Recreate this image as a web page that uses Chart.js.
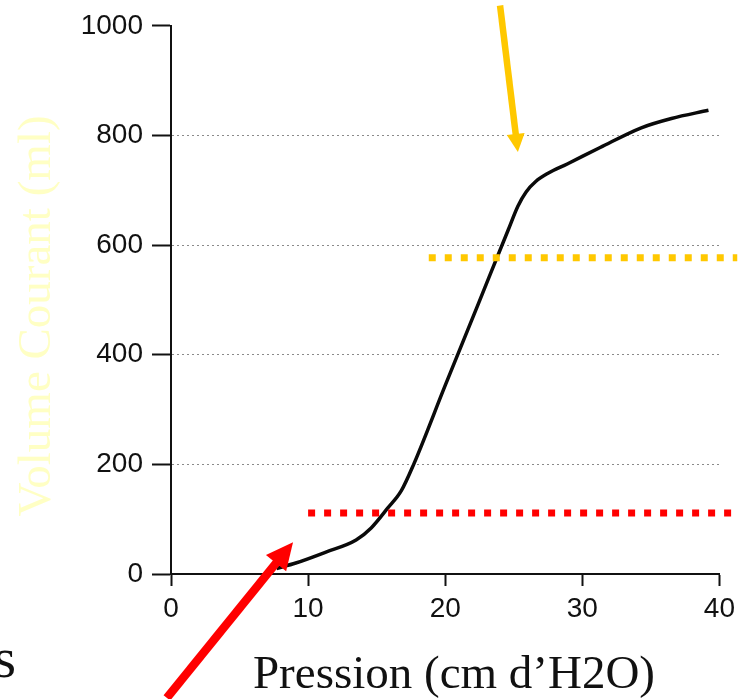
<!DOCTYPE html>
<html>
<head>
<meta charset="utf-8">
<script src="https://cdn.jsdelivr.net/npm/chart.js@4.4.0/dist/chart.umd.min.js"></script>
<style>
  html, body { margin: 0; padding: 0; background: #fff; }
  #wrap { width: 741px; height: 699px; }
</style>
</head>
<body>
<div id="wrap"><canvas id="chart" width="741" height="699"></canvas></div>
<script>
// courbe pression / volume
const pression = [7.7, 9.1, 11.3, 13.5, 14.6, 15.8, 16.8, 17.7, 20.0, 22.4, 24.6, 25.3, 25.9, 26.6, 27.5, 28.9, 31.3, 34.3, 36.5, 39.2];
const volume   = [10, 20, 40, 62, 84, 120, 152, 200, 344, 492, 628, 671, 697, 716, 731, 748, 778, 814, 831, 846];
const xTicks = [0, 10, 20, 30, 40];
const yTicks = [0, 200, 400, 600, 800, 1000];

// seuils en pointillés : [volume, pression début, pression fin]
const seuilBas  = [111.5, 10.0, 41.3];
const seuilHaut = [577, 18.8, 41.3];

// flèches : [pression, volume] queue -> pointe
const flecheJaune = [[24.0, 1037], [25.3, 770]];
const flecheRouge = [[-0.3, -226], [8.9, 58]];

const titreX = 'Pression (cm d\u2019H2O)';
const titreY = 'Volume Courant (ml)';
const bout = 's';

const SERIF = '"Liberation Serif", "Times New Roman", serif';
const SANS = '"Liberation Sans", Arial, sans-serif';

function drawArrow(ctx, a, b, color, w, headLen, headHalf){
  const dx = b[0]-a[0], dy = b[1]-a[1], len = Math.hypot(dx, dy);
  const ux = dx/len, uy = dy/len;
  const bx = b[0]-ux*headLen, by = b[1]-uy*headLen;
  ctx.save();
  ctx.strokeStyle = color; ctx.fillStyle = color; ctx.lineWidth = w; ctx.lineCap = 'butt';
  ctx.beginPath(); ctx.moveTo(a[0], a[1]); ctx.lineTo(bx+ux*2, by+uy*2); ctx.stroke();
  ctx.beginPath();
  ctx.moveTo(b[0], b[1]);
  ctx.lineTo(bx - uy*headHalf, by + ux*headHalf);
  ctx.lineTo(bx + uy*headHalf, by - ux*headHalf);
  ctx.closePath(); ctx.fill();
  ctx.restore();
}

const annot = {
  id: 'annot',
  afterDraw(chart){
    const {ctx, scales: {x, y}} = chart;
    const px = p => [x.getPixelForValue(p[0]), y.getPixelForValue(p[1])];
    ctx.save();
    ctx.font = '47px ' + SERIF;
    ctx.textBaseline = 'alphabetic';
    ctx.textAlign = 'center';
    ctx.fillStyle = '#111';
    ctx.fillText(titreX, 454, 688);
    ctx.font = '58px ' + SERIF;
    ctx.textAlign = 'right';
    ctx.fillText(bout, 16, 677);
    ctx.font = '47px ' + SERIF;
    ctx.textAlign = 'center';
    ctx.translate(50, 316);
    ctx.rotate(-Math.PI/2);
    ctx.fillStyle = '#ffffc4';
    ctx.fillText(titreY, 0, 0);
    ctx.restore();
    drawArrow(ctx, px(flecheJaune[0]), px(flecheJaune[1]), '#ffc800', 6.5, 18, 9);
    drawArrow(ctx, px(flecheRouge[0]), px(flecheRouge[1]), '#ff0000', 8.5, 27, 13);
  }
};

const seuil = (s, color) => ({
  data: [{x: s[1], y: s[0]}, {x: s[2], y: s[0]}],
  borderColor: color, borderWidth: 7, borderDash: [7, 9], borderCapStyle: 'butt',
  pointRadius: 0, clip: false, order: 1
});

const tickFont = { family: SANS, size: 28 };

new Chart(document.getElementById('chart'), {
  type: 'line',
  data: {
    datasets: [
      {
        data: pression.map((p, i) => ({x: p, y: volume[i]})),
        borderColor: '#0a0a0a', borderWidth: 3.5, pointRadius: 0,
        cubicInterpolationMode: 'monotone', order: 2
      },
      seuil(seuilBas, '#ff0000'),
      seuil(seuilHaut, '#ffc800')
    ]
  },
  options: {
    responsive: false,
    animation: false,
    layout: { padding: { top: 21, right: 18, left: 0, bottom: 0 } },
    plugins: { legend: { display: false }, tooltip: { enabled: false } },
    scales: {
      x: {
        type: 'linear', min: 0, max: 40,
        afterBuildTicks: s => { s.ticks = xTicks.map(v => ({value: v})); },
        afterFit: s => { s.height = 125; },
        ticks: { font: tickFont, color: '#111', padding: 6, maxRotation: 0, callback: v => String(v) },
        grid: { drawOnChartArea: false, tickLength: 12, tickWidth: 2, tickColor: '#111' },
        border: { color: '#111', width: 2 }
      },
      y: {
        type: 'linear', min: 0, max: 1000,
        afterBuildTicks: s => { s.ticks = yTicks.map(v => ({value: v})); },
        afterFit: s => { s.width = 171; },
        ticks: { font: tickFont, color: '#111', padding: 9, callback: v => String(v) },
        grid: {
          color: c => (c.tick && c.tick.value > 0 && c.tick.value < 1000) ? '#8a8a8a' : 'rgba(0,0,0,0)',
          lineWidth: 1, tickLength: 19, tickWidth: 2, tickColor: '#111'
        },
        border: { color: '#111', width: 2, dash: [2, 3] }
      }
    }
  },
  plugins: [annot]
});
</script>
</body>
</html>
